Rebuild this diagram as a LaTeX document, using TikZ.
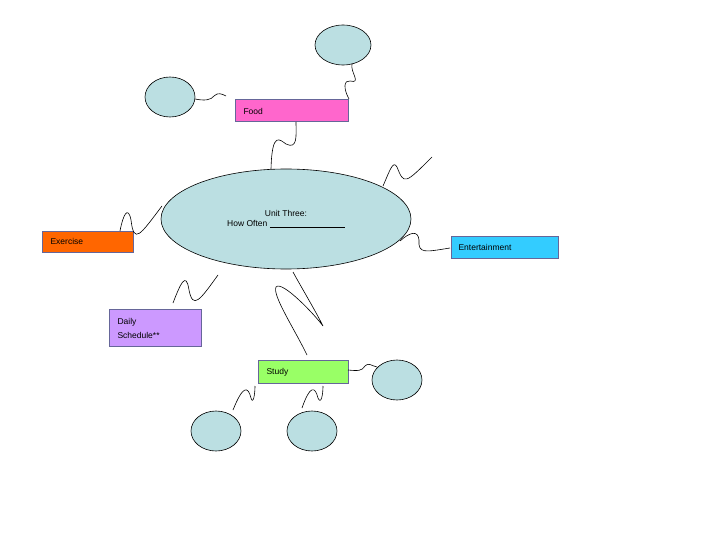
\documentclass[tikz,border=0pt]{standalone}
\usepackage{fontspec}
\setmainfont{Liberation Sans}
\usetikzlibrary{shapes.geometric}
\definecolor{bub}{HTML}{BBDFE2}
\begin{document}
\begin{tikzpicture}[x=1pt,y=-1pt,
  bubble/.style={ellipse,draw=black,fill=bub,line width=0.6pt,inner sep=0pt},
  box/.style={draw=gray!80!blue,minimum height=22pt,inner sep=0pt,anchor=north west,font=\fontsize{8.5}{10}\selectfont},
  sq/.style={draw,line width=0.6pt}]
\useasboundingbox[fill=white] (0,0) rectangle (720,540);
\node[bubble,minimum width=250pt,minimum height=100pt] (c) at (286,219) {};
\node[font=\fontsize{8.5}{10}\selectfont,align=center] (ct) at (286,219) {Unit Three:\\How Often \underline{\hspace{75pt}}};
\node[box,fill={rgb,255:red,255;green,102;blue,204},minimum width=113pt] (food) at (235,99) {};
\node[anchor=west,font=\fontsize{8.5}{10}\selectfont] (foodt) at (240,111) {Food};
\node[box,fill={rgb,255:red,255;green,102;blue,0},minimum width=91pt,minimum height=21pt] (ex) at (42,231) {};
\node[anchor=west,font=\fontsize{8.5}{10}\selectfont] (ext) at (47,241) {Exercise};
\node[box,fill={rgb,255:red,51;green,204;blue,255},minimum width=107pt] (ent) at (451,236) {};
\node[anchor=west,font=\fontsize{8.5}{10}\selectfont] (entt) at (455,247) {Entertainment};
\node[box,fill={rgb,255:red,204;green,153;blue,255},minimum width=92pt,minimum height=37pt] (ds) at (109,309) {};
\node[anchor=west,align=left,font=\fontsize{8.5}{14}\selectfont] (dst) at (114,328) {Daily\\Schedule**};
\node[box,fill={rgb,255:red,153;green,255;blue,102},minimum width=90pt,minimum height=23pt] (st) at (258,360) {};
\node[anchor=west,font=\fontsize{8.5}{10}\selectfont] (stt) at (263,372) {Study};
\node[bubble,minimum width=50pt,minimum height=40pt] (b1) at (170,97) {};
\node[bubble,minimum width=56pt,minimum height=40pt] (b2) at (343,45) {};
\node[bubble,minimum width=50pt,minimum height=40pt] (b3) at (397,380) {};
\node[bubble,minimum width=50pt,minimum height=40pt] (b4) at (216,431) {};
\node[bubble,minimum width=50pt,minimum height=40pt] (b5) at (312,431) {};
\coordinate (f1) at (226,96);
\coordinate (f2) at (432,157);
\coordinate (f3) at (162,206);
\coordinate (f4) at (218,275);
\coordinate (f5) at (293,272);
\coordinate (f6) at (377,367);
\coordinate (f7) at (233,410);
\coordinate (f8) at (302,408);
\coordinate (f9) at (120,231);
\draw[sq] (271,169) .. controls (272,130) and (280,140) .. (286,144) .. controls (298,150) and (296,135) .. (296,122);
\draw[sq] (349,99) .. controls (343,88) and (344,80) .. (350,81) .. controls (362,84) and (350,72) .. (352,64);
\draw[sq] (195,99) .. controls (205,101) and (211,100) .. (214,96) .. controls (218,92) and (222,94) .. (f1);
\draw[sq] (383,186) .. controls (390,170) and (393,160) .. (397,167) .. controls (404,185) and (405,184) .. (f2);
\draw[sq] (f9) .. controls (123,215) and (128,205) .. (131,220) .. controls (134,245) and (140,235) .. (f3);
\draw[sq] (400,241) .. controls (410,232) and (418,230) .. (419,240) .. controls (418,254) and (425,252) .. (450,248);
\draw[sq] (173,303) .. controls (180,285) and (186,270) .. (189,290) .. controls (193,310) and (200,300) .. (f4);
\draw[sq] (307,355) .. controls (295,330) and (272,295) .. (276,287) .. controls (282,280) and (315,315) .. (323,326) .. controls (315,310) and (300,285) .. (f5);
\draw[sq] (348,370) .. controls (358,371) and (362,371) .. (365,366) .. controls (368,362) and (372,366) .. (f6);
\draw[sq] (255,386) .. controls (255,395) and (253,405) .. (251,398) .. controls (248,386) and (243,385) .. (f7);
\draw[sq] (323,386) .. controls (323,395) and (321,405) .. (318,398) .. controls (315,386) and (310,385) .. (f8);
\end{tikzpicture}
\end{document}
